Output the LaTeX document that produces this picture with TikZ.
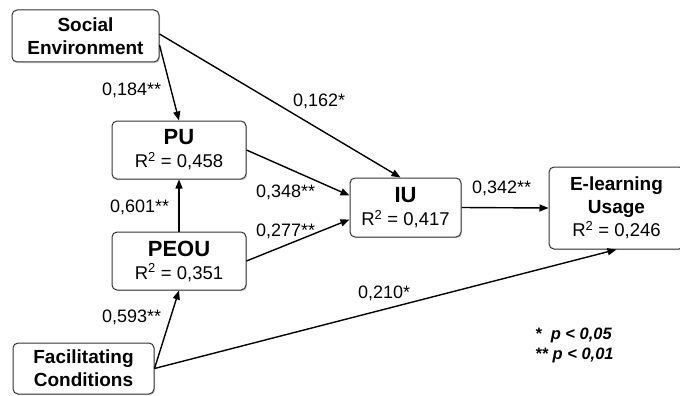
\documentclass[tikz,border=0pt]{standalone}
\usepackage{fontspec}
\setmainfont{Liberation Sans}
\usetikzlibrary{arrows.meta,shadows}

\newcommand{\boxname}{\fontsize{19}{23}\selectfont\bfseries}
\newcommand{\boxtitle}{\fontsize{22}{23}\selectfont\bfseries}
\newcommand{\rsq}[1]{{\fontsize{18.5}{23}\selectfont R\textsuperscript{2} = #1}}

\tikzset{
  box/.style={draw=black!80, line width=1pt, rounded corners=5pt, fill=white,
    align=center, inner sep=0pt, font=\fontsize{18}{23}\selectfont,
    drop shadow={shadow xshift=1.2pt, shadow yshift=-1.2pt, opacity=0.35}},
  link/.style={line width=1.4pt, -{Triangle[length=9pt,width=7pt]}},
  coef/.style={font=\fontsize{18}{18}\selectfont, inner sep=0pt, anchor=west},
}

\begin{document}
\begin{tikzpicture}[x=1pt, y=-1pt]
    \useasboundingbox (0,0) rectangle (680,396);

    % constructs
    \node[box, minimum width=147pt, minimum height=52pt] (SE) at (85.5,36) {\boxname Social\\\boxname Environment};
    \node[box, minimum width=134pt, minimum height=58pt] (PU) at (179,150) {\boxtitle PU\\\rsq{0,458}};
    \node[box, minimum width=134pt, minimum height=58pt] (PEOU) at (179,261) {\boxtitle PEOU\\\rsq{0,351}};
    \node[box, minimum width=141pt, minimum height=51pt] (FC) at (83.5,368.5) {\boxname Facilitating\\\boxname Conditions};
    \node[box, minimum width=111pt, minimum height=59pt] (IU) at (405.5,207.5) {\boxtitle IU\\\rsq{0,417}};
    \node[box, minimum width=135pt, minimum height=82pt] (EU) at (616.5,208) {\boxname E-learning\\\boxname Usage\\\rsq{0,246}};

    % paths
    \draw[link] ([yshift=-9pt]SE.east) -- (PU.north);
    \draw[link] ([yshift=2pt]SE.east) -- ([xshift=-5pt]IU.north);
    \draw[link] (PEOU.north) -- (PU.south);
    \draw[link] (PU.east) -- ([yshift=12pt]IU.west);
    \draw[link] (PEOU.east) -- ([yshift=-12pt]IU.west);
    \draw[link] (FC.east) -- (PEOU.south);
    \draw[link] (FC.east) -- (EU.south);
    \draw[link] (IU.east) -- (EU.west);

    % coefficients
    \node[coef] (cSEPU) at (102,90) {0,184**};
    \node[coef] (cSEIU) at (293,101) {0,162*};
    \node[coef] (cPUIU) at (256,192) {0,348**};
    \node[coef] (cPEOUIU) at (256,231) {0,277**};
    \node[coef] (cPEOUPU) at (110,207) {0,601**};
    \node[coef] (cFCPEOU) at (102,317) {0,593**};
    \node[coef] (cFCEU) at (358,293) {0,210*};
    \node[coef] (cIUEU) at (472,188) {0,342**};

    % significance
    \node[inner sep=0pt, anchor=west, align=left, font=\fontsize{16.5}{20}\selectfont\bfseries\itshape] (sig) at (535,345) {* \ p < 0,05\\** p < 0,01};
\end{tikzpicture}
\end{document}
